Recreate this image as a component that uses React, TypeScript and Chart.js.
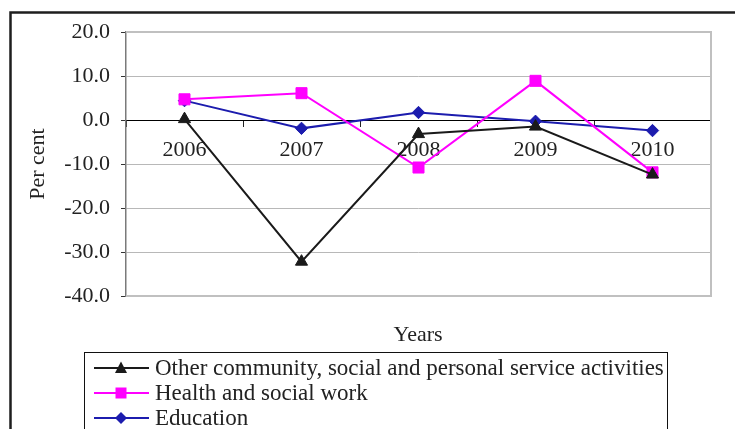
import React, { useEffect, useRef } from 'react';
import { Chart, registerables } from 'chart.js';

Chart.register(...registerables);

const years = ['2006', '2007', '2008', '2009', '2010'];
const otherCommunity = [0.2, -32.2, -3.2, -1.5, -12.4];
const healthSocial = [4.7, 6.1, -10.8, 8.9, -11.9];
const education = [4.4, -1.9, 1.7, -0.3, -2.4];
const yMin = -40;
const yMax = 20;
const yStep = 10;
const seriesNames = [
  'Other community, social and personal service activities',
  'Health and social work',
  'Education',
];
const seriesColors = ['#1a1a1a', '#ff00ff', '#1c1cae'];
const seriesMarkers = ['triangle', 'rect', 'rectRot'];
const yTitle = 'Per cent';
const xTitle = 'Years';

const FONT = "'Liberation Serif', 'Times New Roman', serif";

function drawMarker(ctx: CanvasRenderingContext2D, kind: string, x: number, y: number, color: string) {
  ctx.save();
  ctx.fillStyle = color;
  ctx.beginPath();
  if (kind === 'triangle') {
    ctx.moveTo(x, y - 6.5);
    ctx.lineTo(x + 6, y + 5);
    ctx.lineTo(x - 6, y + 5);
  } else if (kind === 'rect') {
    ctx.rect(x - 5.5, y - 5.5, 11, 11);
  } else {
    ctx.moveTo(x, y - 6);
    ctx.lineTo(x + 6, y);
    ctx.lineTo(x, y + 6);
    ctx.lineTo(x - 6, y);
  }
  ctx.closePath();
  ctx.fill();
  ctx.restore();
}

const decorPlugin = {
  id: 'decor',
  beforeDatasetsDraw(chart: any) {
    const { ctx, chartArea } = chart;
    ctx.save();
    ctx.strokeStyle = '#c0c0c0';
    ctx.lineWidth = 2;
    ctx.beginPath();
    ctx.moveTo(chartArea.left, chartArea.top);
    ctx.lineTo(chartArea.right, chartArea.top);
    ctx.lineTo(chartArea.right, chartArea.bottom);
    ctx.lineTo(chartArea.left, chartArea.bottom);
    ctx.stroke();
    ctx.restore();
  },
  afterDraw(chart: any) {
    const { ctx } = chart;
    ctx.save();
    // outer frame
    ctx.strokeStyle = '#1e1e1e';
    ctx.lineWidth = 2.5;
    ctx.strokeRect(10.5, 12.5, 800, 500);

    // x axis title
    ctx.fillStyle = '#222';
    ctx.font = `22px ${FONT}`;
    ctx.textAlign = 'center';
    ctx.textBaseline = 'middle';
    ctx.fillText(xTitle, 418, 335);

    // legend
    ctx.strokeStyle = '#111';
    ctx.lineWidth = 1;
    ctx.strokeRect(84.5, 352.5, 583, 120);
    ctx.font = `23px ${FONT}`;
    ctx.textAlign = 'left';
    seriesNames.forEach((name, i) => {
      const y = 368 + i * 25;
      ctx.strokeStyle = seriesColors[i];
      ctx.lineWidth = 2;
      ctx.beginPath();
      ctx.moveTo(94, y);
      ctx.lineTo(149, y);
      ctx.stroke();
      drawMarker(ctx, seriesMarkers[i], 121, y, seriesColors[i]);
      ctx.fillStyle = '#222';
      ctx.fillText(name, 155, y + 1);
    });
    ctx.restore();
  },
};

export default function App() {
  const canvasRef = useRef<HTMLCanvasElement | null>(null);

  useEffect(() => {
    const canvas = canvasRef.current;
    if (!canvas) return;
    const values = [otherCommunity, healthSocial, education];
    const radii = [7, 7.8, 6.2];
    const chart = new Chart(canvas, {
      type: 'line',
      data: {
        labels: years,
        datasets: seriesNames.map((name, i) => ({
          label: name,
          data: values[i],
          borderColor: seriesColors[i],
          backgroundColor: seriesColors[i],
          pointBackgroundColor: seriesColors[i],
          pointBorderColor: seriesColors[i],
          pointStyle: seriesMarkers[i] as any,
          pointRadius: radii[i],
          pointBorderWidth: 1,
          borderWidth: 2,
          tension: 0,
          fill: false,
        })),
      },
      options: {
        responsive: false,
        animation: false,
        devicePixelRatio: 1,
        layout: { padding: { left: 0, top: 32, right: 24, bottom: 133 } },
        plugins: {
          legend: { display: false },
          tooltip: { enabled: false },
          title: { display: false },
        },
        scales: {
          x: {
            type: 'category',
            position: { y: 0 } as any,
            offset: true,
            grid: {
              offset: true,
              drawOnChartArea: false,
              drawTicks: true,
              tickLength: 6,
              color: '#222',
              tickColor: '#222',
            },
            border: { display: true, color: '#000', width: 1 },
            ticks: {
              color: '#222',
              padding: 11,
              maxRotation: 0,
              font: { family: FONT, size: 22 },
            },
          },
          y: {
            type: 'linear',
            min: yMin,
            max: yMax,
            ticks: {
              stepSize: yStep,
              color: '#222',
              padding: 11,
              font: { family: FONT, size: 22 },
              callback: (v: any) => Number(v).toFixed(1),
            },
            grid: {
              color: '#b8b8b8',
              lineWidth: 1,
              drawTicks: true,
              tickLength: 5,
              tickColor: '#333',
            },
            border: { display: true, color: '#7a7a7a', width: 1.5 },
            title: {
              display: true,
              text: yTitle,
              color: '#222',
              font: { family: FONT, size: 22 },
              padding: { top: 25, bottom: 0 },
            },
            afterFit: (scale: any) => {
              scale.width = 126;
            },
          },
        },
      },
      plugins: [decorPlugin],
    });
    return () => chart.destroy();
  }, []);

  return (
    <div style={{ position: 'absolute', left: 0, top: 0, width: 735, height: 429, background: '#fff' }}>
      <canvas ref={canvasRef} width={735} height={429} />
    </div>
  );
}
